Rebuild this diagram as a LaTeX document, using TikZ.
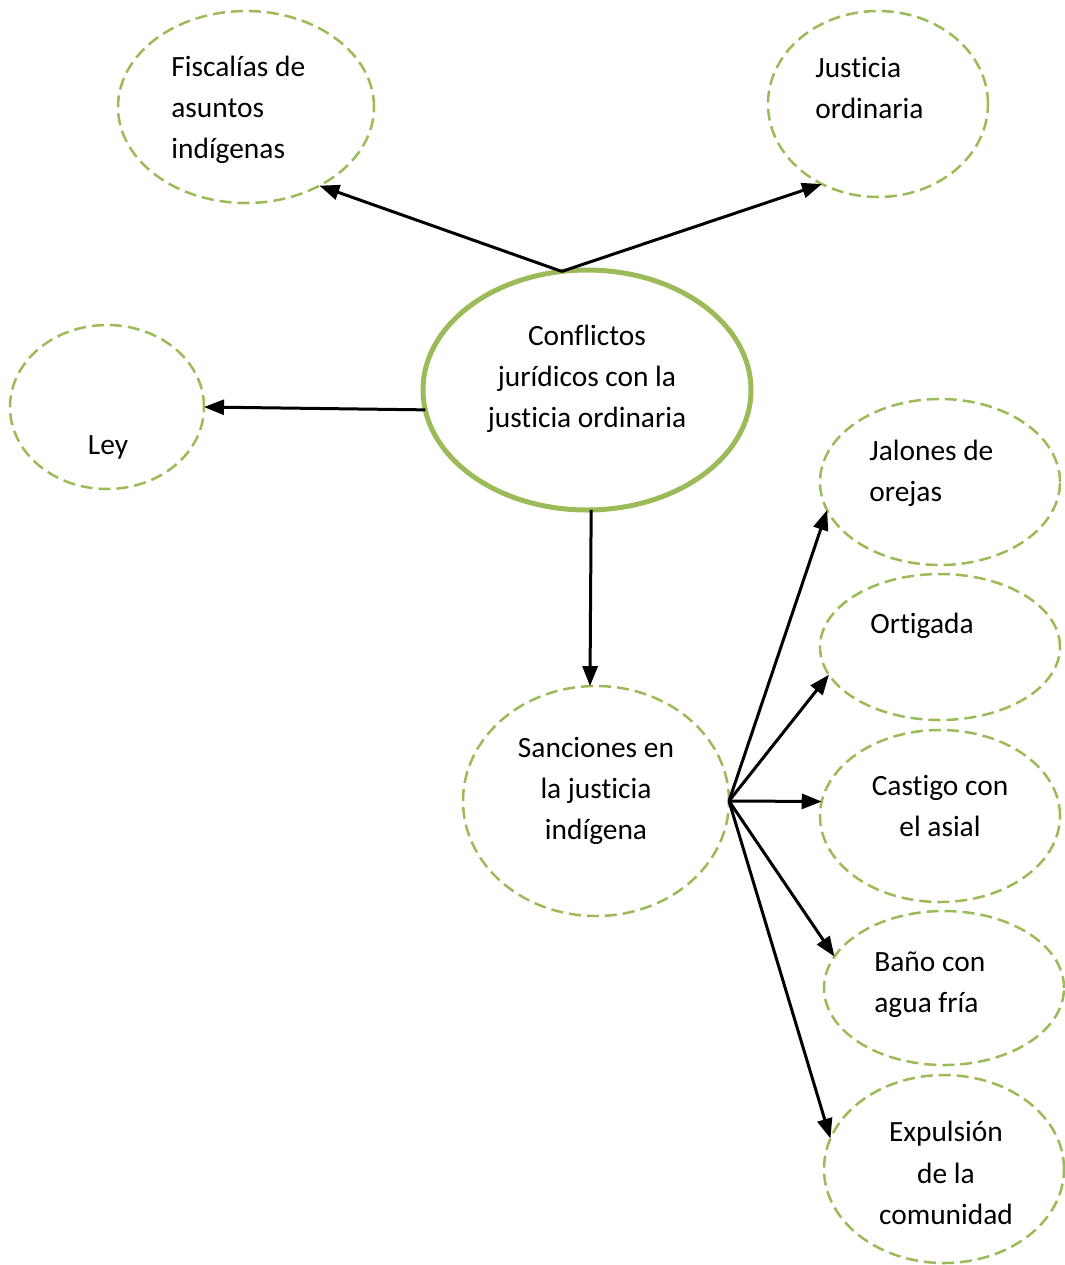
\documentclass[tikz,border=0pt]{standalone}
\usepackage{fontspec}
\setmainfont{Carlito}[Ligatures=NoCommon]
\usetikzlibrary{shapes.geometric,arrows.meta}
\definecolor{olive}{HTML}{9BBB59}
\begin{document}
\begin{tikzpicture}[x=0.5pt,y=-0.5pt,
  bubble/.style={ellipse,draw=olive,line width=1.25pt,dash pattern=on 6pt off 3pt,
    inner sep=0pt,outer sep=0pt},
  core/.style={ellipse,draw=olive,line width=2.5pt,inner sep=0pt,outer sep=0pt},
  txt/.style={inner sep=0pt,font=\fontsize{14.7pt}{20.6pt}\selectfont},
  link/.style={line width=1.5pt,-{Triangle[length=10pt,width=7.5pt]}}]
\useasboundingbox (0,0) rectangle (1065,1265);

% ellipses
\node[core,minimum width=164pt,minimum height=120pt] (conf) at (587,390) {};
\node[bubble,minimum width=128pt,minimum height=96pt] (fisc) at (246,107) {};
\node[bubble,minimum width=110pt,minimum height=93pt] (just) at (878,104) {};
\node[bubble,minimum width=97pt,minimum height=82pt] (ley) at (107,407) {};
\node[bubble,minimum width=133pt,minimum height=115pt] (sanc) at (596,801) {};
\node[bubble,minimum width=120pt,minimum height=83pt] (jal) at (940,482) {};
\node[bubble,minimum width=120pt,minimum height=73pt] (ort) at (940,647) {};
\node[bubble,minimum width=120pt,minimum height=86pt] (cast) at (940,816) {};
\node[bubble,minimum width=120pt,minimum height=77pt] (bano) at (944,988) {};
\node[bubble,minimum width=120pt,minimum height=94pt] (expu) at (944,1169) {};

% labels
\node[txt,align=center] (tconf) at (587,379) {Conflictos\\jurídicos con la\\justicia ordinaria};
\node[txt,align=left,anchor=west] (tfisc) at (171,110) {Fiscalías de\\asuntos\\indígenas};
\node[txt,align=left,anchor=west] (tjust) at (815,88) {Justicia\\ordinaria};
\node[txt] (tley) at (108,447) {Ley};
\node[txt,align=center] (tsanc) at (596,791) {Sanciones en\\la justicia\\indígena};
\node[txt,align=left,anchor=west] (tjal) at (869,473) {Jalones de\\orejas};
\node[txt,anchor=west] (tort) at (870,626) {Ortigada};
\node[txt,align=center] (tcast) at (940,806) {Castigo con\\el asial};
\node[txt,align=left,anchor=west] (tbano) at (874,985) {Baño con\\agua fría};
\node[txt,align=center] (texpu) at (946,1173) {Expulsión\\de la\\comunidad};

% connectors
\draw[link] (conf.102.8) -- (fisc.-47.2);
\draw[link] (conf.102.8) -- (just.-125);
\draw[link] (conf.-173.7) -- (ley.-0.6);
\draw[link] (conf.-88.6) -- (sanc.93);
\draw[link] (sanc.0) -- (jal.-166.8);
\draw[link] (sanc.0) -- (ort.-166);
\draw[link] (sanc.0) -- (cast.173.3);
\draw[link] (sanc.0) -- (bano.164);
\draw[link] (sanc.0) -- (expu.165.7);
\end{tikzpicture}
\end{document}
